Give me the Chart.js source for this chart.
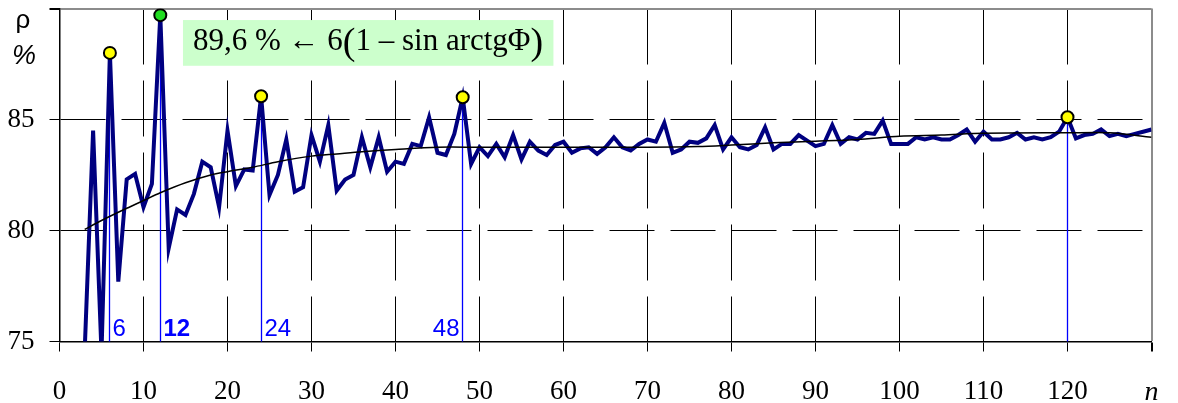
<!DOCTYPE html>
<html>
<head>
<meta charset="utf-8">
<script src="https://cdn.jsdelivr.net/npm/chart.js@4.4.1/dist/chart.umd.min.js"></script>
<style>
  html, body { margin: 0; padding: 0; background: #fff; }
</style>
</head>
<body>
<canvas id="myChart" width="1178" height="403"></canvas>
<script>
// n runs from 3 to 130, one value per n
const firstN = 3;
const rho = [
  74.6, 84.5, 74.5, 88.0, 77.7, 82.3, 82.55, 81.05, 82.1, 89.7,       // 3..12
  79.2, 80.95, 80.7, 81.65, 83.1, 82.85, 81.05, 84.5, 82.0, 82.75,    // 13..22
  82.7, 86.05, 81.6, 82.5, 84.1, 81.75, 81.95, 84.3, 83.1, 84.75,     // 23..32
  81.8, 82.3, 82.5, 84.2, 82.85, 84.2, 82.65, 83.1, 83.0, 83.9,       // 33..42
  83.8, 85.1, 83.5, 83.4, 84.35, 86.0, 83.0, 83.75, 83.35, 83.9,      // 43..52
  83.3, 84.3, 83.2, 84.0, 83.6, 83.4, 83.85, 84.0, 83.5, 83.7,        // 53..62
  83.75, 83.45, 83.75, 84.2, 83.75, 83.6, 83.9, 84.1, 84.0, 84.85,    // 63..72
  83.5, 83.65, 84.0, 83.95, 84.15, 84.75, 83.65, 84.2, 83.75, 83.65,  // 73..82
  83.85, 84.65, 83.65, 83.9, 83.9, 84.3, 84.05, 83.8, 83.9, 84.75,    // 83..92
  83.9, 84.2, 84.1, 84.4, 84.35, 84.95, 83.9, 83.9, 83.9, 84.2,       // 93..102
  84.1, 84.2, 84.1, 84.1, 84.3, 84.55, 84.0, 84.45, 84.1, 84.1,       // 103..112
  84.2, 84.4, 84.1, 84.2, 84.1, 84.2, 84.45, 85.1, 84.15, 84.3,       // 113..122
  84.35, 84.55, 84.25, 84.35, 84.25, 84.35, 84.45, 84.55              // 123..130
];

// smooth black curve, read at a few n
const trendN   = [3, 5, 8, 10, 12, 15, 18, 20, 23, 26, 30, 33, 36, 40, 45, 50, 60, 70, 76, 80, 85, 90, 95, 100, 105, 110, 120, 125, 130];
const trendRho = [80.05, 80.45, 81.0, 81.35, 81.7, 82.15, 82.5, 82.65, 82.85, 83.1, 83.35, 83.45, 83.55, 83.65, 83.75, 83.75, 83.75, 83.75, 83.78, 83.85, 83.95, 84.02, 84.1, 84.25, 84.3, 84.38, 84.4, 84.4, 84.2];

// marked peaks
const peakN      = [6, 12, 24, 48, 120];
const peakColors = ['#ffff00', '#22dd22', '#ffff00', '#ffff00', '#ffff00'];
const peakLabels = ['6', '12', '24', '48', ''];

const xMin = 0, xMax = 130, xStep = 10;
const yMin = 75, yMax = 90, yStep = 5;
const noteText = ['89,6 % \u2190 6', '(', '1 \u2013 sin arctg\u03A6', ')'];

const seriesPts = rho.map((v, i) => ({x: firstN + i, y: v}));
const trendPts = trendN.map((n, i) => ({x: n, y: trendRho[i]}));
const peakPts = peakN.map(n => ({x: n, y: rho[n - firstN]}));

const serif = '"Liberation Serif", "Times New Roman", serif';
const sans = '"Liberation Sans", Arial, sans-serif';

// drop the label overhang padding, layout.padding places the plot
function noOverhang(s) {
    s.paddingTop = 0; s.paddingBottom = 0;
    s.paddingLeft = 0; s.paddingRight = 0;
}

const extras = {
    id: 'extras',
    beforeDatasetsDraw(chart) {
        const {ctx, chartArea: a, scales: {x, y}} = chart;
        ctx.save();
        // green note box
        const bx1 = x.getPixelForValue(14.7), bx2 = x.getPixelForValue(58.8);
        const by1 = y.getPixelForValue(89.48), by2 = y.getPixelForValue(87.42);
        ctx.fillStyle = '#ccffcc';
        ctx.fillRect(bx1, by1, bx2 - bx1, by2 - by1);
        ctx.fillStyle = '#000';
        ctx.textBaseline = 'alphabetic';
        const base = by1 + 30;
        let tx = bx1 + 10;
        noteText.forEach((s, i) => {
            ctx.font = (i % 2 ? '38px ' : '31px ') + serif;
            ctx.fillText(s, tx, i % 2 ? base + 4 : base);
            tx += ctx.measureText(s).width;
        });

        // thin blue drop lines with labels, on the same pixel column as the grid
        ctx.strokeStyle = '#0000ff';
        ctx.lineWidth = 1.3;
        peakN.forEach((n, i) => {
            const px = Math.round(x.getPixelForValue(n) - 0.5) + 0.5;
            ctx.beginPath();
            ctx.moveTo(px, y.getPixelForValue(rho[n - firstN]));
            ctx.lineTo(px, a.bottom);
            ctx.stroke();
            if (!peakLabels[i]) return;
            ctx.fillStyle = '#0000ff';
            ctx.font = (n === 12 ? 'bold ' : '') + '24px ' + sans;
            const left = n === 48;
            ctx.textAlign = left ? 'right' : 'left';
            ctx.fillText(peakLabels[i], left ? px - 3 : px + 3, a.bottom - 6);
        });
        ctx.restore();
    },
    afterDraw(chart) {
        const {ctx, scales: {y}} = chart;
        ctx.save();
        ctx.fillStyle = '#000';
        ctx.textAlign = 'center';
        ctx.textBaseline = 'middle';
        ctx.font = '26px ' + sans;
        ctx.fillText('\u03C1', 23, y.getPixelForValue(yMax) + 12);
        ctx.font = 'italic 27px ' + sans;
        ctx.fillText('%', 24, y.getPixelForValue(yMax) + 48);
        ctx.restore();
    }
};

const ctx = document.getElementById('myChart');
const myChart = new Chart(ctx, {
    type: 'line',
    data: {
        datasets: [
            {
                label: 'peaks',
                data: peakPts,
                showLine: false,
                pointRadius: 6,
                pointBorderWidth: 2,
                pointBorderColor: '#000',
                pointBackgroundColor: peakColors,
                order: 0
            },
            {
                label: 'trend',
                data: trendPts,
                borderColor: '#000',
                borderWidth: 1.5,
                pointRadius: 0,
                tension: 0.3,
                order: 1
            },
            {
                label: 'rho',
                data: seriesPts,
                borderColor: '#000080',
                borderWidth: 4,
                pointRadius: 0,
                tension: 0,
                borderJoinStyle: 'miter',
                order: 2
            }
        ]
    },
    options: {
        responsive: false,
        animation: false,
        devicePixelRatio: 1,
        layout: {padding: {top: 8.5, right: 26.5, left: 0, bottom: 0}},
        plugins: {legend: {display: false}, tooltip: {enabled: false}},
        scales: {
            x: {
                type: 'linear',
                min: xMin,
                max: xMax,
                afterFit: s => { s.height = 61.5; noOverhang(s); },
                ticks: {
                    stepSize: xStep,
                    color: '#000',
                    padding: 24,
                    maxRotation: 0,
                    font: c => (c.tick && c.tick.value === xMax)
                        ? {family: serif, size: 28, style: 'italic'}
                        : {family: serif, size: 27},
                    callback: v => v === xMax ? 'n' : v
                },
                grid: {
                    color: c => (c.tick && c.tick.value === xMax) ? '#8c8c8c' : '#000',
                    lineWidth: c => (c.tick && c.tick.value === xMax) ? 2 : 1,
                    tickColor: '#000',
                    tickLength: 10
                },
                border: {
                    color: '#000',
                    width: 1.5,
                    dash: c => (c.tick && c.tick.value === xMax) ? [] : [56, 16]
                }
            },
            y: {
                min: yMin,
                max: yMax,
                afterFit: s => { s.width = 59.5; noOverhang(s); },
                ticks: {
                    stepSize: yStep,
                    color: '#000',
                    padding: 15,
                    font: {family: serif, size: 27},
                    callback: v => v === yMax ? '' : v
                },
                grid: {
                    color: c => (c.tick && c.tick.value === yMax) ? '#8c8c8c' : '#000',
                    lineWidth: c => (c.tick && c.tick.value === yMax) ? 2 : 1,
                    tickColor: '#000',
                    tickLength: 10
                },
                border: {
                    color: '#000',
                    width: 1.5,
                    dash: c => (c.tick && c.tick.value === yMax) ? [] : [45, 16]
                }
            }
        }
    },
    plugins: [extras]
});
</script>
</body>
</html>
